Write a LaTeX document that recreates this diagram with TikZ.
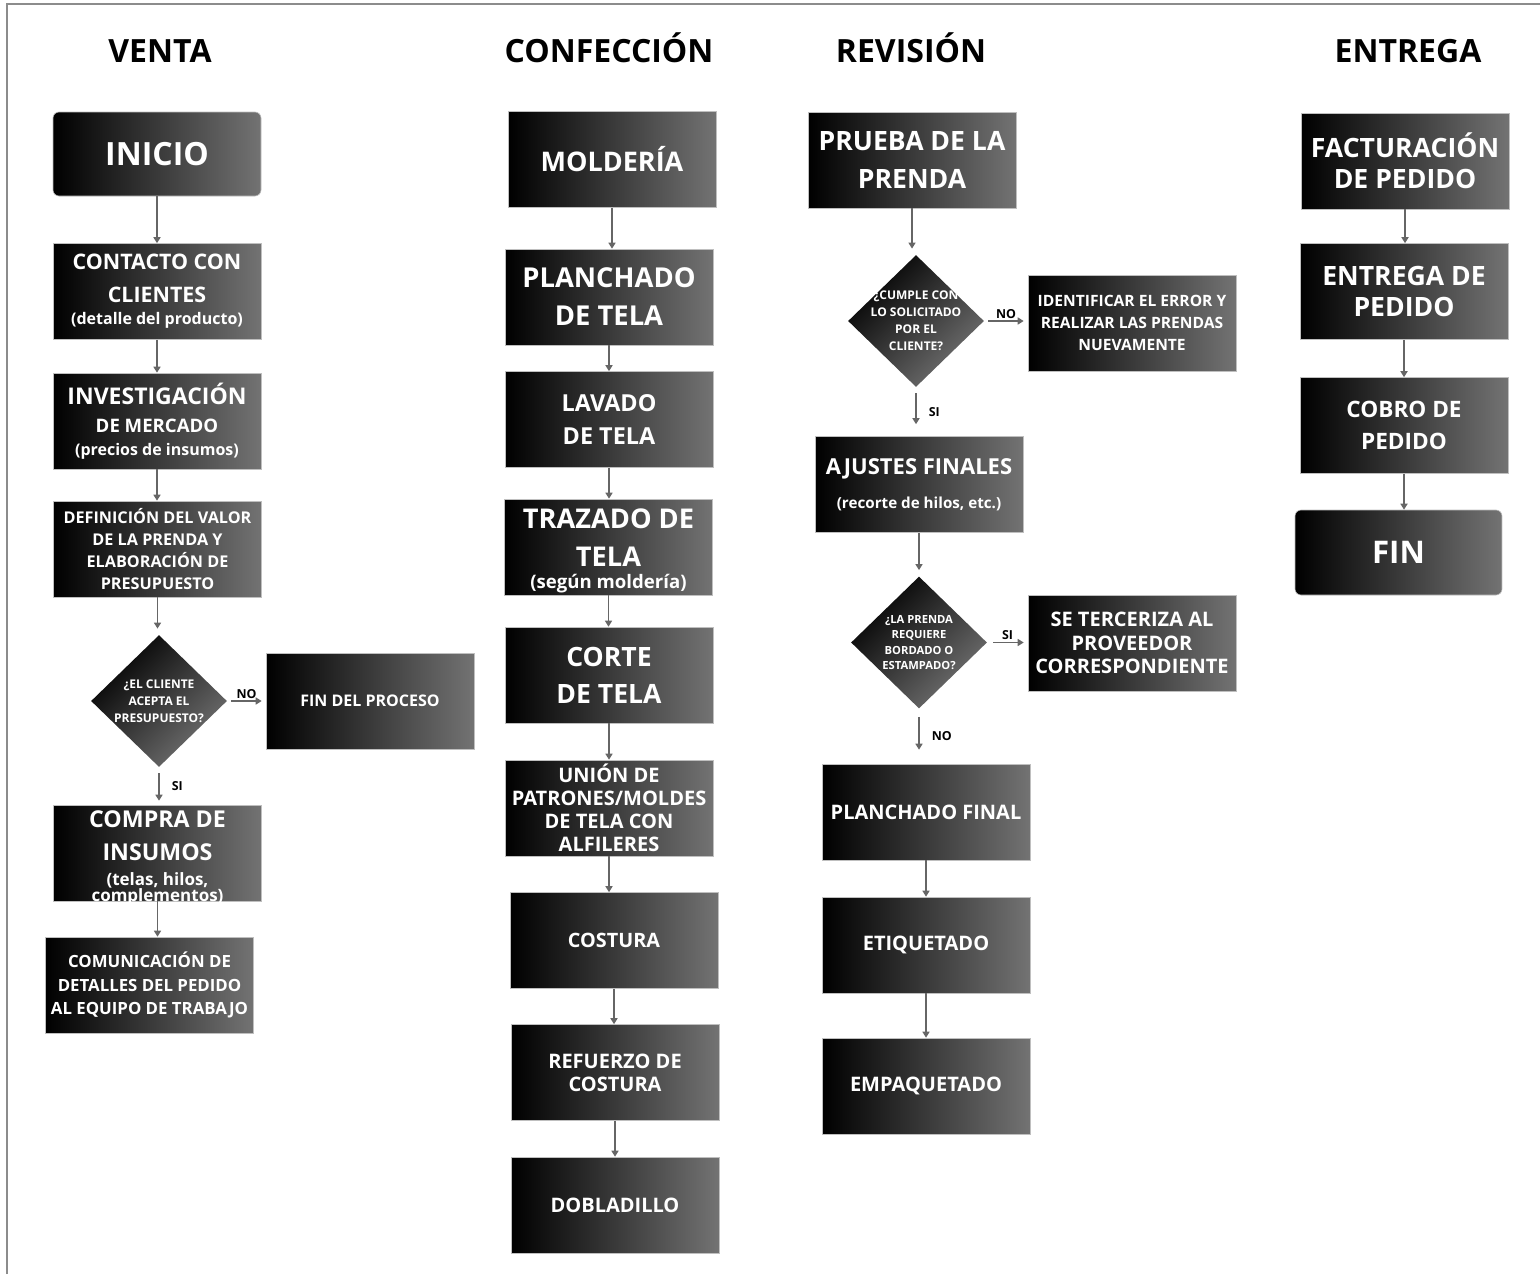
\documentclass[tikz,border=0pt]{standalone}
\usepackage{fontspec}
\setmainfont{Open Sans}
\usetikzlibrary{shapes.geometric,arrows.meta}
\newcommand\fsz[2]{\fontsize{#1}{#2}\selectfont}
\tikzset{
  fs/.style 2 args={font=\bfseries\fsz{#1}{#2}},
  box/.style={rectangle, minimum width=104pt, minimum height=48pt, inner sep=0pt,
    align=center, text=white, fs={10}{12}, left color=black, right color=black!55,
    draw=black!25, line width=0.3pt},
  roundbox/.style={box, rounded corners=3pt, minimum height=42pt},
  decision/.style={diamond, minimum width=68pt, minimum height=66pt, inner sep=-6pt,
    align=center, text=white, fs={6}{8.5},
    top color=black, bottom color=black!55, shading angle=45},
  header/.style={fs={16}{19}, anchor=base},
  flow/.style={draw=black!60, line width=0.75pt, -{Triangle[length=3pt,width=3.5pt]}},
  tag/.style={fs={6.2}{7}, inner sep=1pt}
}
\begin{document}
\begin{tikzpicture}[x=0.5pt,y=-0.5pt]
  \useasboundingbox (0,0) rectangle (1540,1274);
  \draw[black!45, line width=0.8pt] (7,1274) -- (7,4) -- (1540,4);

  % column titles
  \node[header] (venta) at (160,62) {VENTA};
  \node[header] (confeccion) at (609,62) {CONFECCIÓN};
  \node[header] (revision) at (911,62) {REVISIÓN};
  \node[header] (entrega) at (1408,62) {ENTREGA};

  % venta
  \node[roundbox, fs={16}{19}] (inicio) at (157,154) {INICIO};
  \node[box, fs={10.7}{16.5}] (contacto) at (157,291.5) {CONTACTO CON\\CLIENTES\\[-5.5pt]\fsz{8}{12}(detalle del producto)};
  \node[box, fs={11.5}{14}] (investig) at (157,421) {INVESTIGACIÓN\\\fsz{9.3}{13}DE MERCADO\\[-2.5pt]\fsz{8}{12}(precios de insumos)};
  \node[box, fs={8.1}{11}] (definicion) at (157.5,549) {DEFINICIÓN DEL VALOR\\DE LA PRENDA Y\\ELABORACIÓN DE\\PRESUPUESTO};
  \node[decision] (cliente) at (159,701) {¿EL CLIENTE\\ACEPTA EL\\PRESUPUESTO?};
  \node[box, fs={8}{10}] (finproceso) at (370,701) {FIN DEL PROCESO};
  \node[box, fs={11.6}{16.5}, inner ysep=-4pt] (compra) at (157.5,853) {\rule{0pt}{13.5pt}COMPRA DE\\INSUMOS\\[-4pt]\fsz{8.5}{8}(telas, hilos,\\[-8.5pt]\fsz{8.5}{8}complementos)};
  \node[box, fs={8.4}{11.7}] (comunicacion) at (149.5,985) {COMUNICACIÓN DE\\DETALLES DEL PEDIDO\\AL EQUIPO DE TRABAJO};

  % confeccion
  \node[box, fs={13.5}{18}] (molderia) at (612,159.5) {MOLDERÍA};
  \node[box, fs={13.7}{19}] (planchado) at (609,297) {PLANCHADO\\DE TELA};
  \node[box, fs={11.7}{16.5}] (lavado) at (609,419.5) {LAVADO\\DE TELA};
  \node[box, fs={13.6}{19}, inner ysep=-2pt] (trazado) at (608.5,547) {\rule{0pt}{14pt}TRAZADO DE\\TELA\\[-8pt]\fsz{9.3}{11}(según moldería)};
  \node[box, fs={13.3}{18.5}] (corte) at (609,675) {CORTE\\DE TELA};
  \node[box, fs={10}{11.5}] (union) at (609,808) {UNIÓN DE\\PATRONES/MOLDES\\DE TELA CON\\ALFILERES};
  \node[box, fs={9.9}{12}] (costura) at (614,940.5) {COSTURA};
  \node[box, fs={10}{11.5}] (refuerzo) at (615,1072.5) {REFUERZO DE\\COSTURA};
  \node[box] (dobladillo) at (615,1205) {DOBLADILLO};

  % revision
  \node[box, fs={13.3}{19}] (prueba) at (912,160) {PRUEBA DE LA\\PRENDA};
  \node[decision] (cumple) at (916,321) {¿CUMPLE CON\\LO SOLICITADO\\POR EL\\CLIENTE?};
  \node[box, fs={7.8}{11.2}] (identificar) at (1132,323) {IDENTIFICAR EL ERROR Y\\REALIZAR LAS PRENDAS\\NUEVAMENTE};
  \node[box, fs={11}{18}] (ajustes) at (919,484.5) {AJUSTES FINALES\\[-1pt]\fsz{7.6}{18}(recorte de hilos, etc.)};
  \node[decision, fs={5.6}{7.8}] (bordado) at (919,642.5) {¿LA PRENDA\\REQUIERE\\BORDADO O\\ESTAMPADO?};
  \node[box, fs={10}{11.7}] (terceriza) at (1132,643) {SE TERCERIZA AL\\PROVEEDOR\\CORRESPONDIENTE};
  \node[box] (planchfinal) at (926,812) {PLANCHADO FINAL};
  \node[box] (etiquetado) at (926,945) {ETIQUETADO};
  \node[box] (empaquetado) at (926,1086) {EMPAQUETADO};

  % entrega
  \node[box, fs={13.3}{15.5}] (facturacion) at (1405,161) {FACTURACIÓN\\DE PEDIDO};
  \node[box, fs={13.3}{15.5}] (entregapedido) at (1404,291.5) {ENTREGA DE\\PEDIDO};
  \node[box, fs={11.3}{16}] (cobro) at (1404,425.5) {COBRO DE\\PEDIDO};
  \node[roundbox, fs={15.6}{19}, minimum height=42.5pt, minimum width=103.5pt] (fin) at (1398.5,552.5) {FIN};

  % straight arrows
  \foreach \a/\b in {inicio/contacto, contacto/investig, investig/definicion,
      compra/comunicacion, molderia/planchado, planchado/lavado, lavado/trazado,
      trazado/corte, corte/union, union/costura, costura/refuerzo, refuerzo/dobladillo,
      planchfinal/etiquetado, etiquetado/empaquetado,
      facturacion/entregapedido, entregapedido/cobro, cobro/fin}
    \draw[flow] (\a.south) -- (\a.south |- \b.north);
  \foreach \a/\b in {definicion/cliente, prueba/cumple, ajustes/bordado}
    \draw[flow, shorten >=3pt] (\a.south) -- (\a.south |- \b.north);

  % decisions
  \draw[flow, shorten <=2pt, shorten >=2pt] (cliente.east) -- (cliente.east -| finproceso.west)
    node[tag, midway, above] {NO};
  \draw[flow, shorten <=3pt, shorten >=2pt] (cliente.south) -- (cliente.south |- compra.north)
    node[tag, midway, right=5pt] {SI};
  \draw[flow, shorten <=2pt, shorten >=2pt] (cumple.east) -- (cumple.east -| identificar.west)
    node[tag, midway, above] {NO};
  \draw[flow, shorten <=3pt, shorten >=6pt] (cumple.south) -- (cumple.south |- ajustes.north)
    node[tag, midway, right=5pt] {SI};
  \draw[flow, shorten <=3pt, shorten >=2pt] (bordado.east) -- (bordado.east -| terceriza.west)
    node[tag, midway, above] {SI};
  \draw[flow, shorten <=4pt, shorten >=7pt] (bordado.south) -- (bordado.south |- planchfinal.north)
    node[tag, midway, right=5pt] {NO};
\end{tikzpicture}
\end{document}
